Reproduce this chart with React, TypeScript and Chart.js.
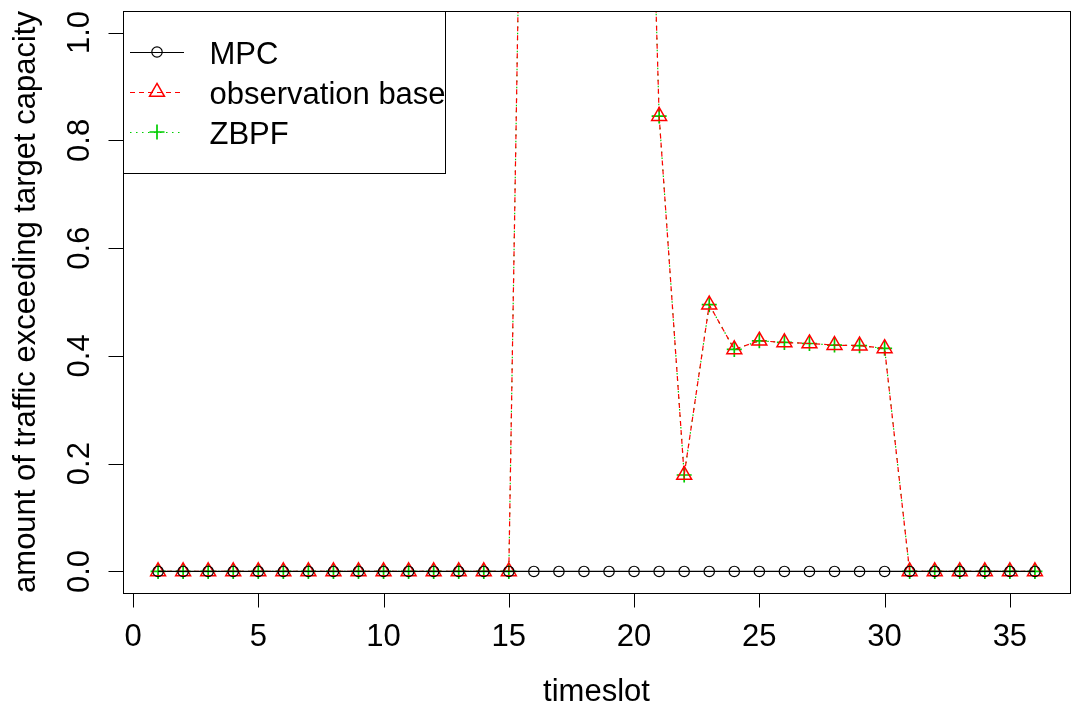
import React, { useEffect, useRef } from "react";
import { Chart, registerables } from "chart.js";

Chart.register(...registerables);

const timeslots = [1, 2, 3, 4, 5, 6, 7, 8, 9, 10, 11, 12, 13, 14, 15, 16, 17, 18, 19, 20, 21, 22, 23, 24, 25, 26, 27, 28, 29, 30, 31, 32, 33, 34, 35, 36];
const mpcValues = [0, 0, 0, 0, 0, 0, 0, 0, 0, 0, 0, 0, 0, 0, 0, 0, 0, 0, 0, 0, 0, 0, 0, 0, 0, 0, 0, 0, 0, 0, 0, 0, 0, 0, 0, 0];
const observationBaseValues = [0, 0, 0, 0, 0, 0, 0, 0, 0, 0, 0, 0, 0, 0, 0, 2.84, 2.9, 2.9, 2.7, 2.46, 0.845, 0.179, 0.495, 0.412, 0.428, 0.425, 0.423, 0.42, 0.419, 0.414, 0, 0, 0, 0, 0, 0];
const zbpfValues = [0, 0, 0, 0, 0, 0, 0, 0, 0, 0, 0, 0, 0, 0, 0, 2.84, 2.9, 2.9, 2.7, 2.46, 0.845, 0.179, 0.495, 0.412, 0.428, 0.425, 0.423, 0.42, 0.419, 0.414, 0, 0, 0, 0, 0, 0];
const xTicks = [0, 5, 10, 15, 20, 25, 30, 35];
const yTicks = [0, 0.2, 0.4, 0.6, 0.8, 1.0];
const yTickLabels = ["0.0", "0.2", "0.4", "0.6", "0.8", "1.0"];
const xTitle = "timeslot";
const yTitle = "amount of traffic exceeding target capacity";
const seriesNames = ["MPC", "observation base", "ZBPF"];

const FONT = '31px "Liberation Sans", Arial, sans-serif';
const RED = "#FF0000";
const GREEN = "#00CD00";

function drawMarker(ctx: CanvasRenderingContext2D, kind: string, x: number, y: number) {
  ctx.save();
  ctx.setLineDash([]);
  ctx.beginPath();
  if (kind === "circle") {
    ctx.strokeStyle = "#000";
    ctx.lineWidth = 1.2;
    ctx.arc(x, y, 5.2, 0, Math.PI * 2);
  } else if (kind === "triangle") {
    ctx.strokeStyle = RED;
    ctx.lineWidth = 1.5;
    const r = 8.6;
    for (let i = 0; i < 3; i++) {
      const a = (i * 2 * Math.PI) / 3;
      const px = x + Math.sin(a) * r;
      const py = y - Math.cos(a) * r;
      if (i === 0) ctx.moveTo(px, py);
      else ctx.lineTo(px, py);
    }
    ctx.closePath();
  } else {
    ctx.strokeStyle = GREEN;
    ctx.lineWidth = 1.7;
    const r = 7.5;
    ctx.moveTo(x - r, y);
    ctx.lineTo(x + r, y);
    ctx.moveTo(x, y - r);
    ctx.lineTo(x, y + r);
  }
  ctx.stroke();
  ctx.restore();
}

const rAxesPlugin = {
  id: "rAxes",
  afterDraw(chart: any) {
    const ctx: CanvasRenderingContext2D = chart.ctx;
    const area = chart.chartArea;
    const xs = chart.scales.x;
    const ys = chart.scales.y;
    ctx.save();
    ctx.strokeStyle = "#000";
    ctx.fillStyle = "#000";
    ctx.lineWidth = 1;
    ctx.setLineDash([]);
    // box
    ctx.strokeRect(Math.round(area.left) + 0.5, Math.round(area.top) + 0.5, Math.round(area.right - area.left), Math.round(area.bottom - area.top));
    // x axis
    const bottom = Math.round(area.bottom) + 0.5;
    ctx.beginPath();
    ctx.moveTo(xs.getPixelForValue(xTicks[0]), bottom);
    ctx.lineTo(xs.getPixelForValue(xTicks[xTicks.length - 1]), bottom);
    xTicks.forEach((t) => {
      const px = Math.round(xs.getPixelForValue(t)) + 0.5;
      ctx.moveTo(px, bottom);
      ctx.lineTo(px, bottom + 14);
    });
    ctx.stroke();
    ctx.font = FONT;
    ctx.textAlign = "center";
    ctx.textBaseline = "alphabetic";
    xTicks.forEach((t) => {
      ctx.fillText(String(t), xs.getPixelForValue(t), 645.5);
    });
    // y axis
    const left = Math.round(area.left) + 0.5;
    ctx.beginPath();
    ctx.moveTo(left, ys.getPixelForValue(yTicks[0]));
    ctx.lineTo(left, ys.getPixelForValue(yTicks[yTicks.length - 1]));
    yTicks.forEach((t) => {
      const py = Math.round(ys.getPixelForValue(t)) + 0.5;
      ctx.moveTo(left, py);
      ctx.lineTo(left - 15, py);
    });
    ctx.stroke();
    yTicks.forEach((t, i) => {
      ctx.save();
      ctx.translate(88.5, ys.getPixelForValue(t));
      ctx.rotate(-Math.PI / 2);
      ctx.fillText(yTickLabels[i], 0, 0);
      ctx.restore();
    });
    // titles
    ctx.fillText(xTitle, (area.left + area.right) / 2, 701);
    ctx.save();
    ctx.translate(35, (area.top + area.bottom) / 2);
    ctx.rotate(-Math.PI / 2);
    ctx.fillText(yTitle, 0, 0);
    ctx.restore();

    // legend
    const lx = Math.round(area.left) + 0.5;
    const ly = Math.round(area.top) + 0.5;
    ctx.fillStyle = "#fff";
    ctx.fillRect(lx, ly, 322, 162);
    ctx.strokeStyle = "#000";
    ctx.strokeRect(lx, ly, 322, 162);
    const rows = [52, 92, 132];
    const styles = [
      { color: "#000", dash: [] as number[], marker: "circle" },
      { color: RED, dash: [5, 4], marker: "triangle" },
      { color: GREEN, dash: [1.5, 4.5], marker: "plus" },
    ];
    rows.forEach((cy, i) => {
      const st = styles[i];
      ctx.save();
      ctx.strokeStyle = st.color;
      ctx.lineWidth = 1;
      ctx.setLineDash(st.dash);
      ctx.beginPath();
      ctx.moveTo(130, cy + 0.5);
      ctx.lineTo(184, cy + 0.5);
      ctx.stroke();
      ctx.restore();
      drawMarker(ctx, st.marker, 157, cy);
      ctx.fillStyle = "#000";
      ctx.font = FONT;
      ctx.textAlign = "left";
      ctx.fillText(seriesNames[i], 209.5, cy + 11.5);
    });
    ctx.restore();
  },
};

export default function App() {
  const canvasRef = useRef<HTMLCanvasElement | null>(null);
  useEffect(() => {
    if (!canvasRef.current) return;
    const mk = (vals: number[]) => timeslots.map((x, i) => ({ x, y: vals[i] }));
    const chart = new Chart(canvasRef.current, {
      type: "line",
      data: {
        datasets: [
          {
            label: seriesNames[0],
            data: mk(mpcValues),
            borderColor: "#000",
            borderWidth: 1.2,
            pointStyle: "circle",
            pointRadius: 5.2,
            pointBorderColor: "#000",
            pointBackgroundColor: "rgba(0,0,0,0)",
            pointBorderWidth: 1.2,
            tension: 0,
          },
          {
            label: seriesNames[1],
            data: mk(observationBaseValues),
            borderColor: RED,
            borderWidth: 1.2,
            borderDash: [5, 4],
            pointStyle: "triangle",
            pointRadius: 8.6,
            pointBorderColor: RED,
            pointBackgroundColor: "rgba(0,0,0,0)",
            pointBorderWidth: 1.5,
            tension: 0,
          },
          {
            label: seriesNames[2],
            data: mk(zbpfValues),
            borderColor: GREEN,
            borderWidth: 1.2,
            borderDash: [1.5, 4.5],
            pointStyle: "cross",
            pointRadius: 7.5,
            pointBorderColor: GREEN,
            pointBackgroundColor: "rgba(0,0,0,0)",
            pointBorderWidth: 1.7,
            tension: 0,
          },
        ],
      },
      options: {
        responsive: false,
        devicePixelRatio: 1,
        animation: false,
        events: [],
        layout: { autoPadding: false, padding: { left: 123, top: 11, right: 3, bottom: 114 } },
        scales: {
          x: { type: "linear", min: -0.4, max: 37.4, display: false },
          y: { type: "linear", min: -0.04, max: 1.04, display: false },
        },
        plugins: { legend: { display: false }, tooltip: { enabled: false } },
      },
      plugins: [rAxesPlugin],
    });
    return () => chart.destroy();
  }, []);
  return (
    <div style={{ position: "absolute", left: 0, top: 0, width: 1073, height: 707, background: "#fff" }}>
      <canvas ref={canvasRef} width={1073} height={707} />
    </div>
  );
}
